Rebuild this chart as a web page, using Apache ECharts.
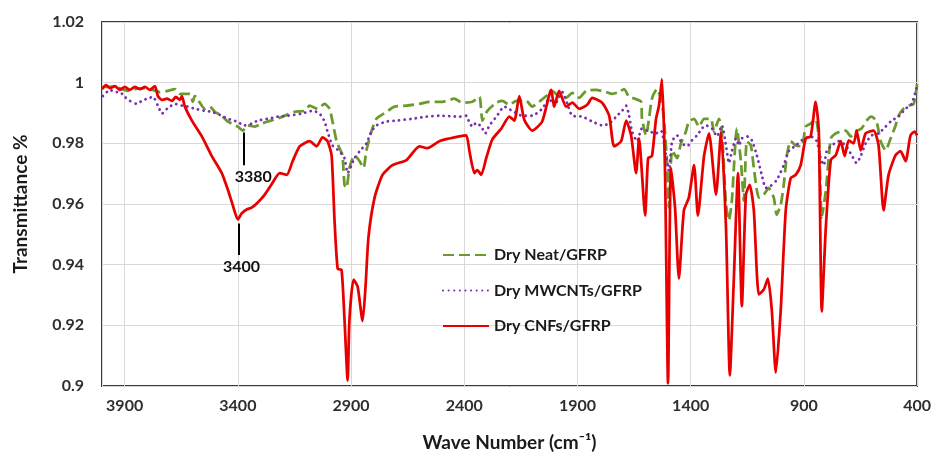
<!DOCTYPE html>
<html>
<head>
<meta charset="utf-8">
<script src="https://cdn.jsdelivr.net/npm/echarts@6/dist/echarts.min.js"></script>
<style>
html,body{margin:0;padding:0;background:#fff;}
#chart{width:934px;height:457px;}
</style>
</head>
<body>
<div id="chart"></div>
<script>
// ---- data ----
const xTicks = [3900, 3400, 2900, 2400, 1900, 1400, 900, 400];
const yTicks = [0.9, 0.92, 0.94, 0.96, 0.98, 1, 1.02];
const seriesNames = ['Dry Neat/GFRP', 'Dry MWCNTs/GFRP', 'Dry CNFs/GFRP'];

const neatWave = [3996,3943,3885,3855,3797,3775,3744,3709,3678,3656,3612,3599,3590,3546,3524,3502,3471,3444,3400,3378,3356,3325,3295,3268,3228,3193,3149,3105,3083,3048,3017,2995,2982,2964,2951,2938,2929,2920,2907,2885,2862,2845,2832,2810,2788,2743,2708,2655,2598,2554,2497,2444,2408,2364,2333,2320,2298,2258,2232,2201,2170,2126,2100,2069,2038,2012,1981,1950,1923,1892,1862,1818,1773,1747,1716,1694,1672,1646,1619,1615,1597,1584,1571,1549,1531,1518,1504,1496,1482,1460,1443,1421,1408,1385,1363,1341,1311,1297,1275,1262,1244,1231,1218,1196,1178,1165,1152,1134,1121,1099,1077,1055,1033,1020,1002,989,975,958,936,909,892,870,848,834,821,803,781,759,737,715,693,671,645,623,601,579,561,539,517,495,482,460,438,415,400];
const neatT = [0.9986,0.9986,0.9973,0.9979,0.9982,0.9976,0.9969,0.9973,0.9979,0.9963,0.9963,0.9937,0.9956,0.9914,0.9921,0.9904,0.9891,0.9872,0.9855,0.9842,0.9859,0.9855,0.9865,0.9872,0.9881,0.9891,0.9904,0.9907,0.9924,0.9914,0.9930,0.9914,0.9872,0.9807,0.9784,0.9761,0.9663,0.9653,0.9719,0.9761,0.9741,0.9719,0.9777,0.9839,0.9881,0.9904,0.9921,0.9924,0.9930,0.9937,0.9937,0.9947,0.9934,0.9937,0.9953,0.9875,0.9907,0.9934,0.9940,0.9927,0.9940,0.9940,0.9921,0.9937,0.9956,0.9973,0.9953,0.9950,0.9966,0.9950,0.9973,0.9976,0.9969,0.9963,0.9969,0.9979,0.9953,0.9947,0.9937,0.9881,0.9826,0.9881,0.9947,0.9979,0.9947,0.9881,0.9728,0.9588,0.9777,0.9751,0.9800,0.9839,0.9872,0.9881,0.9855,0.9881,0.9881,0.9839,0.9881,0.9839,0.9598,0.9546,0.9611,0.9849,0.9741,0.9611,0.9807,0.9793,0.9719,0.9621,0.9631,0.9653,0.9621,0.9565,0.9598,0.9663,0.9761,0.9807,0.9793,0.9790,0.9855,0.9865,0.9881,0.9816,0.9556,0.9644,0.9816,0.9833,0.9839,0.9842,0.9823,0.9839,0.9849,0.9875,0.9888,0.9872,0.9807,0.9777,0.9816,0.9859,0.9891,0.9914,0.9924,0.9930,0.9995];

const mwcntWave = [3996,3965,3943,3921,3899,3877,3846,3824,3802,3775,3753,3735,3713,3678,3647,3621,3590,3546,3515,3471,3444,3405,3370,3339,3312,3268,3224,3180,3118,3070,3039,3017,3004,2982,2951,2929,2915,2898,2885,2862,2832,2810,2788,2743,2699,2629,2567,2510,2422,2391,2377,2364,2347,2325,2307,2289,2258,2223,2188,2144,2100,2056,2025,2003,1967,1945,1923,1879,1835,1791,1760,1725,1703,1685,1672,1659,1637,1615,1593,1553,1531,1509,1496,1482,1460,1438,1416,1394,1372,1350,1333,1306,1284,1262,1244,1231,1218,1200,1187,1174,1152,1130,1108,1086,1068,1046,1020,989,967,936,909,870,843,826,812,799,777,746,715,689,667,649,627,601,570,539,512,482,451,424,400];
const mwcntT = [0.9956,0.9976,0.9969,0.9969,0.9953,0.9940,0.9930,0.9940,0.9947,0.9953,0.9924,0.9898,0.9914,0.9930,0.9924,0.9921,0.9914,0.9907,0.9904,0.9891,0.9881,0.9872,0.9859,0.9865,0.9875,0.9881,0.9888,0.9891,0.9898,0.9907,0.9898,0.9872,0.9839,0.9793,0.9774,0.9751,0.9702,0.9728,0.9751,0.9774,0.9800,0.9839,0.9859,0.9872,0.9875,0.9881,0.9888,0.9891,0.9888,0.9891,0.9868,0.9855,0.9868,0.9855,0.9833,0.9859,0.9888,0.9921,0.9907,0.9891,0.9891,0.9914,0.9947,0.9924,0.9969,0.9930,0.9891,0.9888,0.9872,0.9859,0.9865,0.9891,0.9907,0.9924,0.9891,0.9839,0.9807,0.9849,0.9842,0.9833,0.9842,0.9761,0.9709,0.9807,0.9826,0.9800,0.9790,0.9810,0.9826,0.9849,0.9859,0.9849,0.9823,0.9859,0.9793,0.9735,0.9774,0.9816,0.9793,0.9816,0.9823,0.9810,0.9761,0.9696,0.9653,0.9660,0.9679,0.9728,0.9774,0.9793,0.9810,0.9823,0.9807,0.9751,0.9728,0.9774,0.9793,0.9807,0.9793,0.9761,0.9735,0.9758,0.9800,0.9826,0.9833,0.9855,0.9875,0.9888,0.9914,0.9930,0.9989];

const cnfWave = [4000,3982,3965,3943,3921,3899,3877,3855,3832,3810,3788,3766,3753,3735,3713,3691,3674,3656,3647,3634,3603,3559,3515,3471,3444,3422,3400,3383,3361,3339,3312,3281,3250,3215,3184,3158,3127,3083,3052,3026,3004,2986,2973,2959,2942,2929,2915,2907,2889,2871,2849,2836,2823,2796,2761,2717,2655,2598,2563,2510,2466,2422,2391,2377,2355,2342,2325,2303,2276,2236,2201,2179,2157,2135,2100,2056,2016,2003,1981,1950,1923,1892,1857,1835,1791,1760,1738,1707,1685,1663,1641,1628,1601,1588,1571,1553,1540,1527,1513,1500,1487,1469,1452,1430,1408,1385,1368,1341,1319,1288,1266,1244,1227,1209,1191,1174,1156,1139,1121,1099,1077,1059,1042,1024,1002,980,958,936,914,892,870,848,834,821,803,781,759,737,720,702,680,667,649,627,592,570,548,526,495,473,451,429,411,400];
const cnfT = [0.9979,0.9992,0.9982,0.9989,0.9976,0.9986,0.9976,0.9986,0.9979,0.9986,0.9976,0.9989,0.9956,0.9943,0.9947,0.9940,0.9953,0.9943,0.9956,0.9921,0.9875,0.9823,0.9758,0.9702,0.9647,0.9595,0.9549,0.9569,0.9582,0.9588,0.9605,0.9631,0.9666,0.9702,0.9696,0.9741,0.9790,0.9807,0.9790,0.9820,0.9807,0.9761,0.9546,0.9386,0.9383,0.9220,0.9018,0.9220,0.9351,0.9328,0.9214,0.9328,0.9491,0.9621,0.9696,0.9728,0.9745,0.9790,0.9784,0.9807,0.9816,0.9823,0.9826,0.9774,0.9702,0.9712,0.9696,0.9751,0.9813,0.9849,0.9888,0.9875,0.9956,0.9878,0.9842,0.9872,0.9976,0.9921,0.9973,0.9921,0.9934,0.9914,0.9927,0.9950,0.9934,0.9891,0.9790,0.9807,0.9875,0.9826,0.9702,0.9816,0.9562,0.9751,0.9758,0.9881,0.9924,1.0012,0.9696,0.9009,0.9719,0.9588,0.9354,0.9579,0.9621,0.9728,0.9562,0.9758,0.9833,0.9631,0.9836,0.9523,0.9035,0.9360,0.9702,0.9263,0.9631,0.9663,0.9579,0.9302,0.9318,0.9354,0.9253,0.9044,0.9253,0.9579,0.9686,0.9696,0.9728,0.9816,0.9823,0.9937,0.9839,0.9246,0.9523,0.9745,0.9761,0.9807,0.9758,0.9810,0.9800,0.9842,0.9777,0.9833,0.9842,0.9793,0.9579,0.9696,0.9761,0.9774,0.9741,0.9826,0.9839,0.9826];

// annotations: label, wave position, line top, line bottom
const annotLabels = ['3380', '3400'];
const annotWave = [3372, 3397];
const annotTop = [0.9836, 0.9536];
const annotBottom = [0.9728, 0.9432];

const zip = (xs, ys) => xs.map((x, i) => [x, ys[i]]);

const FONT = 'Lato, "Open Sans", sans-serif';
const chart = echarts.init(document.getElementById('chart'), null, {renderer: 'canvas'});

const annotData = annotLabels.map((lab, i) => [
  {coord: [annotWave[i], annotTop[i]]},
  {coord: [annotWave[i], annotBottom[i]], name: lab,
   label: {offset: i === 0 ? [9, 0] : [3, 0]}}
]);

chart.setOption({
  animation: false,
  backgroundColor: '#ffffff',
  grid: {left: 102, right: 15, top: 22, bottom: 66, show: true,
         borderColor: '#3a3a3a', borderWidth: 2, backgroundColor: 'transparent'},
  legend: {
    orient: 'vertical', left: 437, top: 242, itemWidth: 46, itemHeight: 14, itemGap: 19.5,
    data: seriesNames,
    itemStyle: {opacity: 0},
    textStyle: {fontFamily: FONT, fontWeight: 'bold', fontSize: 16, color: '#1a1a1a'}
  },
  xAxis: {
    type: 'value', inverse: true, min: 400, max: 4000, interval: 500,
    axisLine: {show: false}, axisTick: {show: false},
    splitLine: {show: true, lineStyle: {color: '#d9d9d9', width: 1}},
    axisLabel: {showMaxLabel: false, margin: 12, fontFamily: FONT, fontWeight: 'bold', fontSize: 16, color: '#2e2e2e',
      formatter: v => xTicks.indexOf(v) >= 0 ? String(v) : ''},
    name: 'Wave Number (cm⁻¹)', nameLocation: 'middle', nameGap: 47,
    nameTextStyle: {fontFamily: FONT, fontWeight: 'bold', fontSize: 19, color: '#1a1a1a'}
  },
  yAxis: {
    type: 'value', min: 0.9, max: 1.02, interval: 0.02,
    axisLine: {show: false}, axisTick: {show: false},
    splitLine: {show: true, lineStyle: {color: '#d9d9d9', width: 1}},
    axisLabel: {margin: 18, fontFamily: FONT, fontWeight: 'bold', fontSize: 16, color: '#2e2e2e',
      formatter: v => { const t = yTicks.find(k => Math.abs(k - v) < 1e-6); return t === undefined ? '' : String(t); }},
    name: 'Transmittance %', nameLocation: 'middle', nameGap: 72,
    nameTextStyle: {fontFamily: FONT, fontWeight: 'bold', fontSize: 19, color: '#1a1a1a'}
  },
  series: [
    {name: seriesNames[0], type: 'line', data: zip(neatWave, neatT), symbol: 'none', smooth: 0.2,
     color: '#6a9a2c', lineStyle: {color: '#6a9a2c', width: 2.75, type: [11, 5]}, z: 2},
    {name: seriesNames[1], type: 'line', data: zip(mwcntWave, mwcntT), symbol: 'none', smooth: 0.2,
     color: '#7a2fb0', lineStyle: {color: '#7a2fb0', width: 2.8, type: [0.1, 5.5], cap: 'round'}, z: 3},
    {name: seriesNames[2], type: 'line', data: zip(cnfWave, cnfT), symbol: 'none', smooth: 0.2,
     color: '#e80000', lineStyle: {color: '#e80000', width: 2.75}, z: 4,
     markLine: {
       silent: true, symbol: ['none', 'none'], animation: false,
       lineStyle: {color: '#000', width: 2, type: 'solid'},
       label: {show: true, position: 'end', distance: 4, formatter: p => p.name,
               fontFamily: FONT, fontWeight: 'bold', fontSize: 16, color: '#111'},
       data: annotData
     }}
  ]
});
</script>
</body>
</html>
